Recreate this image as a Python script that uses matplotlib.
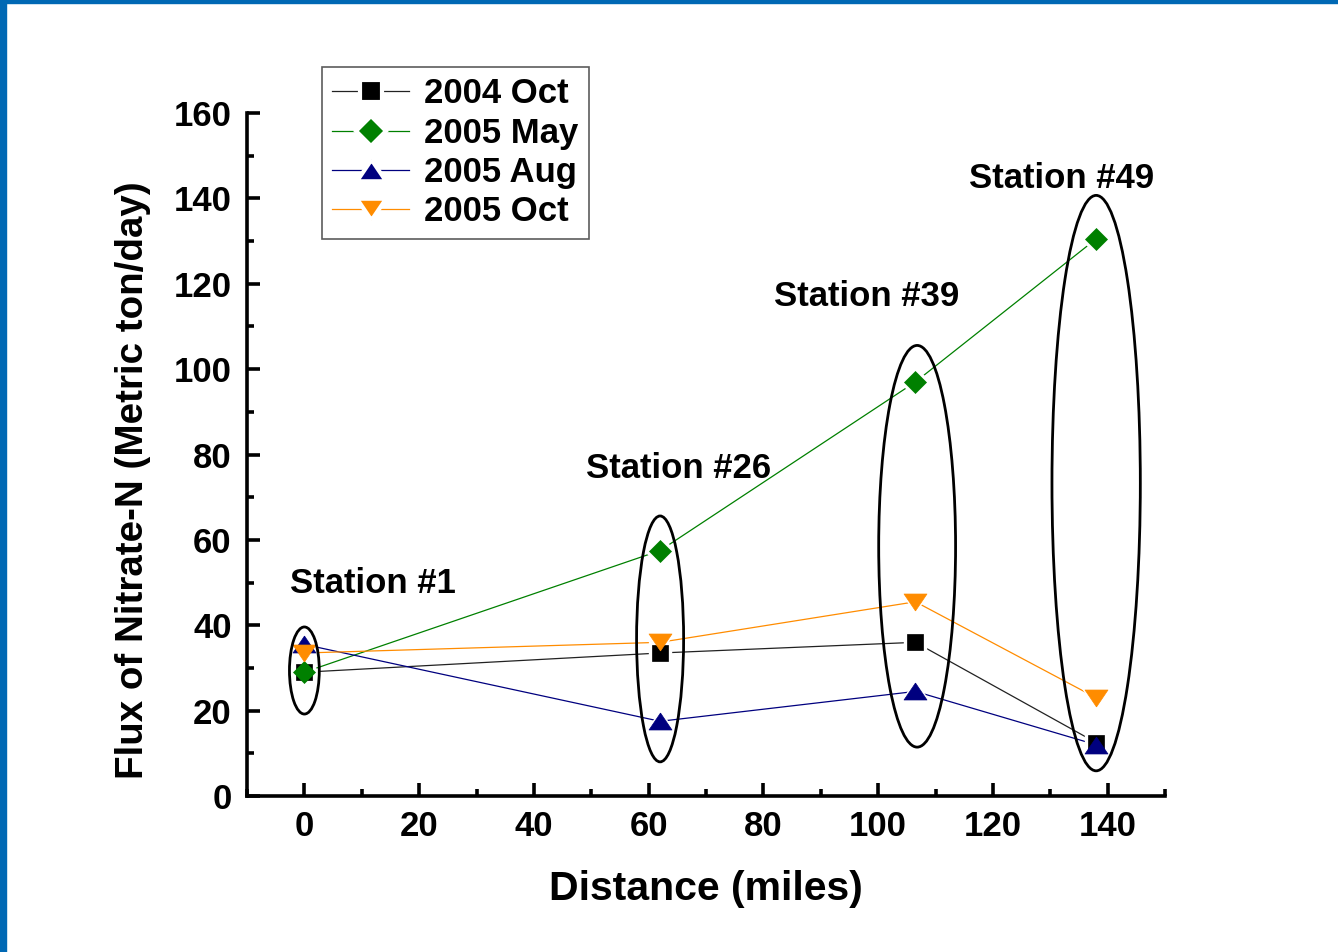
import matplotlib
matplotlib.use("Agg")
import matplotlib.pyplot as plt
from matplotlib.patches import Ellipse, Rectangle
from matplotlib.lines import Line2D
from matplotlib.ticker import MultipleLocator

plt.rcParams['font.family'] = ['Liberation Sans', 'DejaVu Sans']
plt.rcParams['font.weight'] = 'bold'

# Station distances (miles)
distance = [0, 62, 106.5, 138]
station_names = ["Station #1", "Station #26", "Station #39", "Station #49"]

# Nitrate-N flux (metric ton/day) per sampling campaign
oct_2004 = [29, 33.5, 36, 12.5]
may_2005 = [29, 57.5, 97, 130.5]
aug_2005 = [35.5, 17.5, 24.5, 12]
oct_2005 = [33.5, 36, 45.5, 23]

series_labels = ["2004 Oct", "2005 May", "2005 Aug", "2005 Oct"]

# flattened triangles
tri_up = [(0, 0.74), (-1, -0.74), (1, -0.74), (0, 0.74)]
tri_down = [(0, -0.74), (-1, 0.74), (1, 0.74), (0, -0.74)]

fig = plt.figure(figsize=(13.38, 9.52), dpi=100)
fig.patch.set_facecolor("white")

# blue frame strips along the left and top edge
fig.patches.append(Rectangle((0, 0), 6 / 1338, 1, transform=fig.transFigure,
                             color="#0068b4", zorder=10))
fig.patches.append(Rectangle((0, 1 - 3 / 952), 1, 3 / 952, transform=fig.transFigure,
                             color="#0068b4", zorder=10))

ax = fig.add_axes([247 / 1338, 1 - 796 / 952, (1165 - 247) / 1338, (796 - 113) / 952])

styles = [
    dict(color="#222222", marker="s", ms=12, fc="black"),
    dict(color="#008000", marker="D", ms=11, fc="#008000"),
    dict(color="#00007f", marker=tri_up, ms=16.5, fc="#00007f"),
    dict(color="#ff8c00", marker=tri_down, ms=16.5, fc="#ff8c00"),
]
all_series = [oct_2004, may_2005, aug_2005, oct_2005]

handles = []
for vals, lab, st in zip(all_series, series_labels, styles):
    # connecting line
    ax.plot(distance, vals, lw=0.9, color=st["color"], zorder=2)
    # white halo leaves a small gap where the line meets the marker
    ax.plot(distance, vals, ls="none", marker=st["marker"], ms=st["ms"] + 4,
            mfc="white", mec="white", zorder=2.5)
    handles.append(Line2D([], [], color=st["color"], lw=0.9, marker=st["marker"],
                          ms=st["ms"] + 4.5, mfc=st["fc"], mec="white", mew=3))
for vals, st in zip(all_series, styles):
    ax.plot(distance, vals, ls="none", marker=st["marker"], ms=st["ms"],
            mfc=st["fc"], mec=st["fc"], mew=0.5, zorder=3)

# ellipses grouping each station's measurements
ell_specs = [  # (center x, center y, width, height) in data units
    (0, 29.4, 5.2, 20.4),
    (62, 36.8, 8.2, 57.6),
    (106.8, 58.5, 13.4, 94.1),
    (138, 73.3, 15.4, 134.8),
]
for cx, cy, w, h in ell_specs:
    ax.add_patch(Ellipse((cx, cy), w, h, fill=False, ec="black", lw=2.0, zorder=4))

label_pos = [(12, 49.8), (65.3, 76.8), (98, 117.1), (132, 144.7)]
for name, (lx, ly) in zip(station_names, label_pos):
    ax.text(lx, ly, name, ha="center", va="center", fontsize=25, fontweight="bold")

ax.set_xlim(-10, 150)
ax.set_ylim(0, 160)
ax.xaxis.set_major_locator(MultipleLocator(20))
ax.xaxis.set_minor_locator(MultipleLocator(10))
ax.yaxis.set_major_locator(MultipleLocator(20))
ax.yaxis.set_minor_locator(MultipleLocator(10))

for s in ["top", "right"]:
    ax.spines[s].set_visible(False)
for s in ["left", "bottom"]:
    ax.spines[s].set_linewidth(2.6)
    ax.spines[s].set_capstyle("projecting")

ax.tick_params(which="major", direction="in", length=9.5, width=2.6, labelsize=25)
ax.tick_params(axis="x", which="major", pad=10)
ax.tick_params(axis="y", which="major", pad=11)
ax.tick_params(which="minor", direction="in", length=5, width=2.6)
for t in ax.get_xticklabels() + ax.get_yticklabels():
    t.set_fontweight("bold")

ax.set_xlabel("Distance (miles)", fontsize=29.5, fontweight="bold", labelpad=19.5)
ax.set_ylabel("Flux of Nitrate-N (Metric ton/day)", fontsize=27.7, fontweight="bold",
              ha="center", va="center", rotation_mode="anchor")
ax.yaxis.set_label_coords((133 - 247) / 918, (796 - 480) / 683)

leg = ax.legend(handles, series_labels, loc="upper left",
                bbox_to_anchor=((322 - 247) / 918, 1 + (113 - 67) / 683),
                borderaxespad=0, frameon=True, fancybox=False, edgecolor="#333333",
                handlelength=2.2, handletextpad=0.45, borderpad=0.3, labelspacing=0.18,
                numpoints=1, prop=dict(weight="bold", size=25))
leg.get_frame().set_linewidth(1.2)

fig.savefig("out.png", dpi=100, facecolor="white")
